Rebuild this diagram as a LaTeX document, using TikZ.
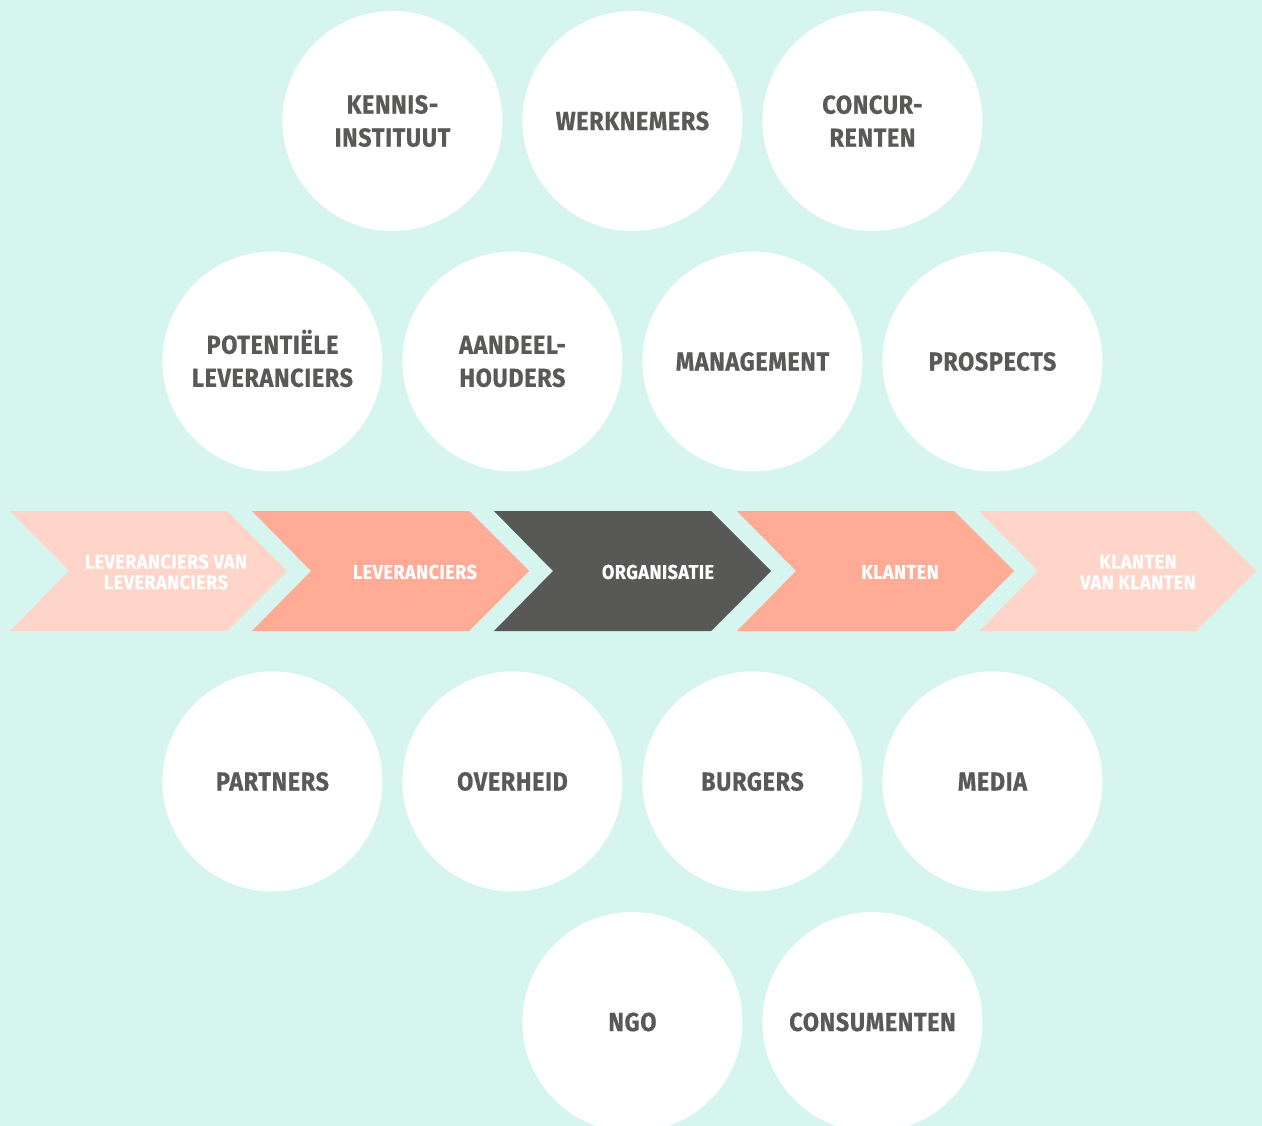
\documentclass[tikz,border=0pt]{standalone}
\usepackage{fontspec}
\setmainfont{Fira Sans}[FakeStretch=0.9]
\newfontfamily\labelfont{Fira Sans}[FakeStretch=0.9,LetterSpace=2.5,BoldFeatures={FakeBold=0.6}]
\definecolor{bgmint}{HTML}{D6F5EF}
\definecolor{chevlight}{HTML}{FFD5CA}
\definecolor{chevsalmon}{HTML}{FFAB95}
\definecolor{chevdark}{HTML}{585856}
\definecolor{txtgray}{HTML}{595958}
\newcommand\chevshape[2]{%
  \fill[#2] (#1,511) -- ++(217,0) -- ++(60,60) -- ++(-60,60) -- ++(-217,0) -- ++(59,-60) -- cycle;}
\begin{document}
\begin{tikzpicture}[x=1pt,y=-1pt,
  circ/.style={circle, fill=white, minimum size=220pt, inner sep=0pt, align=center,
    text=txtgray, font=\labelfont\fontsize{26}{33}\selectfont\bfseries},
  chevlabel/.style={align=center, text=white, inner sep=0pt,
    font=\labelfont\fontsize{20}{20.5}\selectfont\bfseries}]
\useasboundingbox (0,0) rectangle (1262,1126);
\clip (0,0) rectangle (1262,1126);
\fill[bgmint] (0,0) rectangle (1262,1126);
% row 1
\node[circ] (kennis) at (392.5,121) {KENNIS-\\INSTITUUT};
\node[circ] (werknemers) at (632.5,121) {WERKNEMERS};
\node[circ] (concur) at (872.5,121) {CONCUR-\\RENTEN};
% row 2
\node[circ] (potentiele) at (272.5,361.5) {\smash{POTENTIËLE}\vphantom{A}\\LEVERANCIERS};
\node[circ] (aandeel) at (512.5,361.5) {AANDEEL-\\HOUDERS};
\node[circ] (management) at (752.5,361.5) {MANAGEMENT};
\node[circ] (prospects) at (992.5,361.5) {PROSPECTS};
% chevrons
\chevshape{10}{chevlight}
\chevshape{252}{chevsalmon}
\chevshape{494}{chevdark}
\chevshape{737}{chevsalmon}
\chevshape{979}{chevlight}
\node[chevlabel] (levlev) at (166,572) {LEVERANCIERS VAN\\LEVERANCIERS};
\node[chevlabel] (lev) at (415,572) {LEVERANCIERS};
\node[chevlabel] (org) at (658,572) {ORGANISATIE};
\node[chevlabel] (klanten) at (900,572) {KLANTEN};
\node[chevlabel] (klankl) at (1138,572) {KLANTEN\\VAN KLANTEN};
% row 4
\node[circ] (partners) at (272.5,781.5) {PARTNERS};
\node[circ] (overheid) at (512.5,781.5) {OVERHEID};
\node[circ] (burgers) at (752.5,781.5) {BURGERS};
\node[circ] (media) at (992.5,781.5) {MEDIA};
% row 5
\node[circ] (ngo) at (632.5,1022) {NGO};
\node[circ] (consumenten) at (872.5,1022) {CONSUMENTEN};
\end{tikzpicture}
\end{document}
